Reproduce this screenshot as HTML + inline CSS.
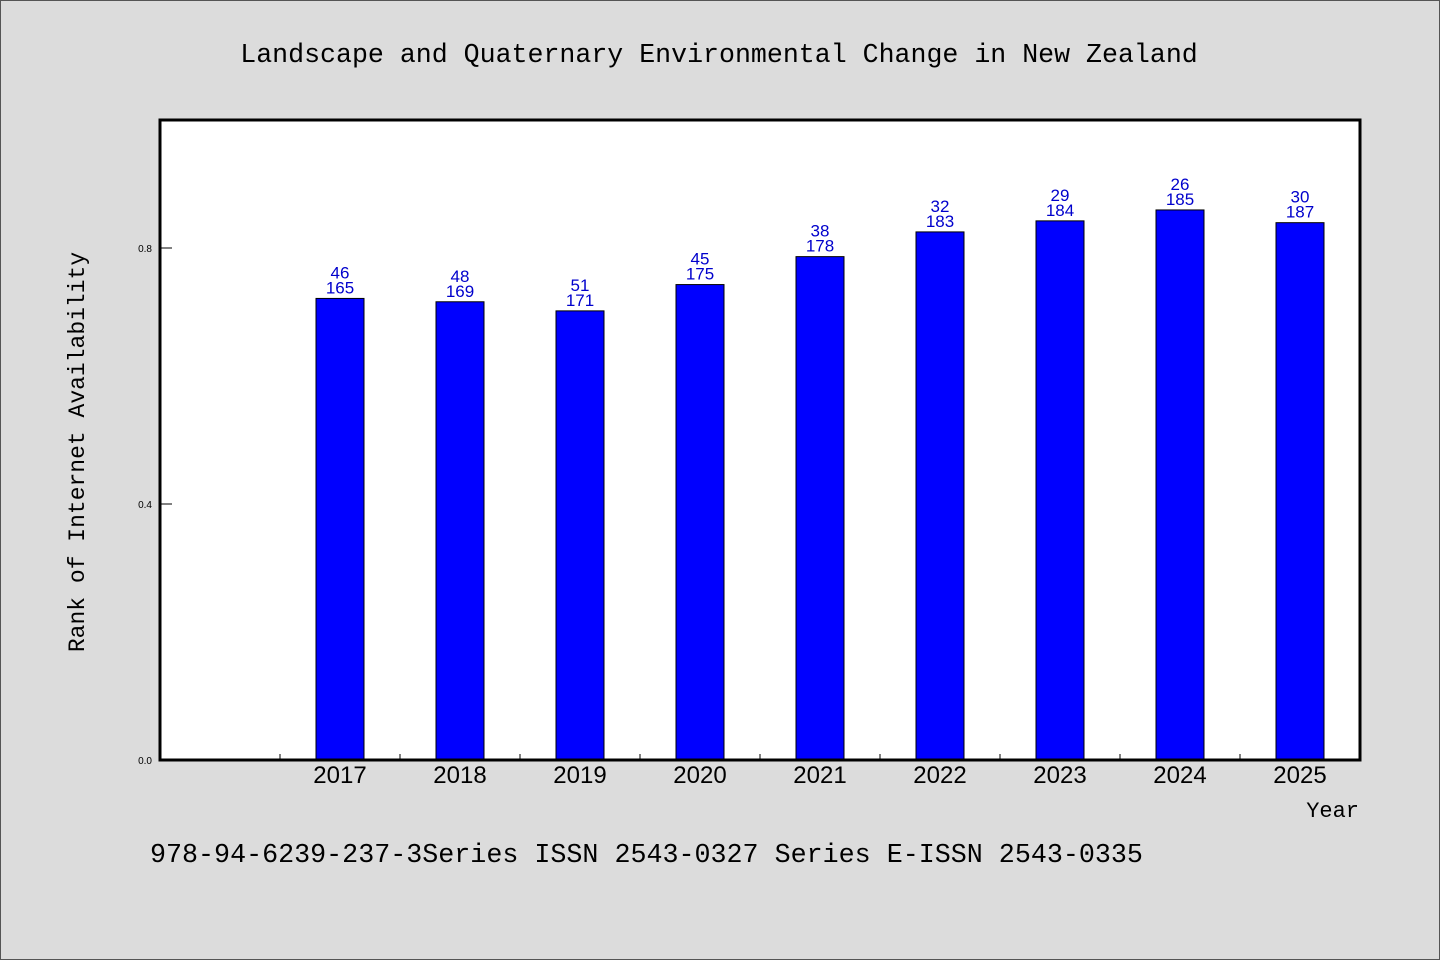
<!DOCTYPE html>
<html><head><meta charset="utf-8"><style>
body{margin:0;background:#dcdcdc;}
svg{display:block}
.mono{font-family:"Liberation Mono",monospace;fill:#000}
.sans{font-family:"Liberation Sans",sans-serif}
</style></head><body>
<svg width="1440" height="960">
<rect x="0.5" y="0.5" width="1439" height="959" fill="#dcdcdc" stroke="#555"/>
<text class="mono" x="719" y="62" font-size="26.6" text-anchor="middle">Landscape and Quaternary Environmental Change in New Zealand</text>
<rect x="160" y="120" width="1200" height="640" fill="#fff"/>
<g id="marks"></g>
<rect x="160" y="120" width="1200" height="640" fill="none" stroke="#000" stroke-width="3"/>
<text class="mono" transform="translate(84,452) rotate(-90)" font-size="23" text-anchor="middle">Rank of Internet Availability</text>
<text class="mono" x="1359" y="817" font-size="22" text-anchor="end">Year</text>
<text class="mono" x="150" y="862" font-size="26.7">978-94-6239-237-3Series ISSN 2543-0327 Series E-ISSN 2543-0335</text>
</svg>
<script>
const categories=["","2017","2018","2019","2020","2021","2022","2023","2024","2025"];
const ranks=[null,46,48,51,45,38,32,29,26,30];
const totals=[null,165,169,171,175,178,183,184,185,187];
const yTicks=[0.0,0.4,0.8];
const yTickLabels=["0.0","0.4","0.8"];
const NS="http://www.w3.org/2000/svg";
const g=document.getElementById('marks');
const x0=160,bw=120,yb=760,yh=640;
const yScale=v=>yb-v*yh;
const xCenter=i=>x0+bw*i+bw/2;
function mk(t,a){const e=document.createElementNS(NS,t);for(const k in a)e.setAttribute(k,a[k]);g.appendChild(e);return e;}
yTicks.forEach((v,i)=>{
 const l=mk('line',{x1:160,x2:172,y1:yScale(v),y2:yScale(v),stroke:'#000','stroke-width':1});
 
 
 const t=mk('text',{x:152,y:yScale(v)+4,'font-size':10,'text-anchor':'end',class:'sans'});
 t.textContent=yTickLabels[i];
 
 
});
categories.forEach((c,i)=>{
 if(i>0){
  const l=mk('line',{x1:x0+bw*i,x2:x0+bw*i,y1:yb,y2:yb-6,stroke:'#000'});
  
  
 }
 if(!c)return;
 const v=1-ranks[i]/totals[i];
 const top=yScale(v);
 const r=mk('rect',{x:xCenter(i)-24,y:top,width:48,height:yb-top,fill:'#0000ff',stroke:'#000','stroke-width':1});
 
 
 const t1=mk('text',{x:xCenter(i),y:top-20,'font-size':17,'text-anchor':'middle',fill:'#0000cc',class:'sans'});
 t1.textContent=ranks[i];
 
 
 const t2=mk('text',{x:xCenter(i),y:top-5,'font-size':17,'text-anchor':'middle',fill:'#0000cc',class:'sans'});
 t2.textContent=totals[i];
 
 
 const xl=mk('text',{x:xCenter(i),y:783,'font-size':24,'text-anchor':'middle',fill:'#000',class:'sans'});
 xl.textContent=c;
 
 
});
</script>
</body></html>
